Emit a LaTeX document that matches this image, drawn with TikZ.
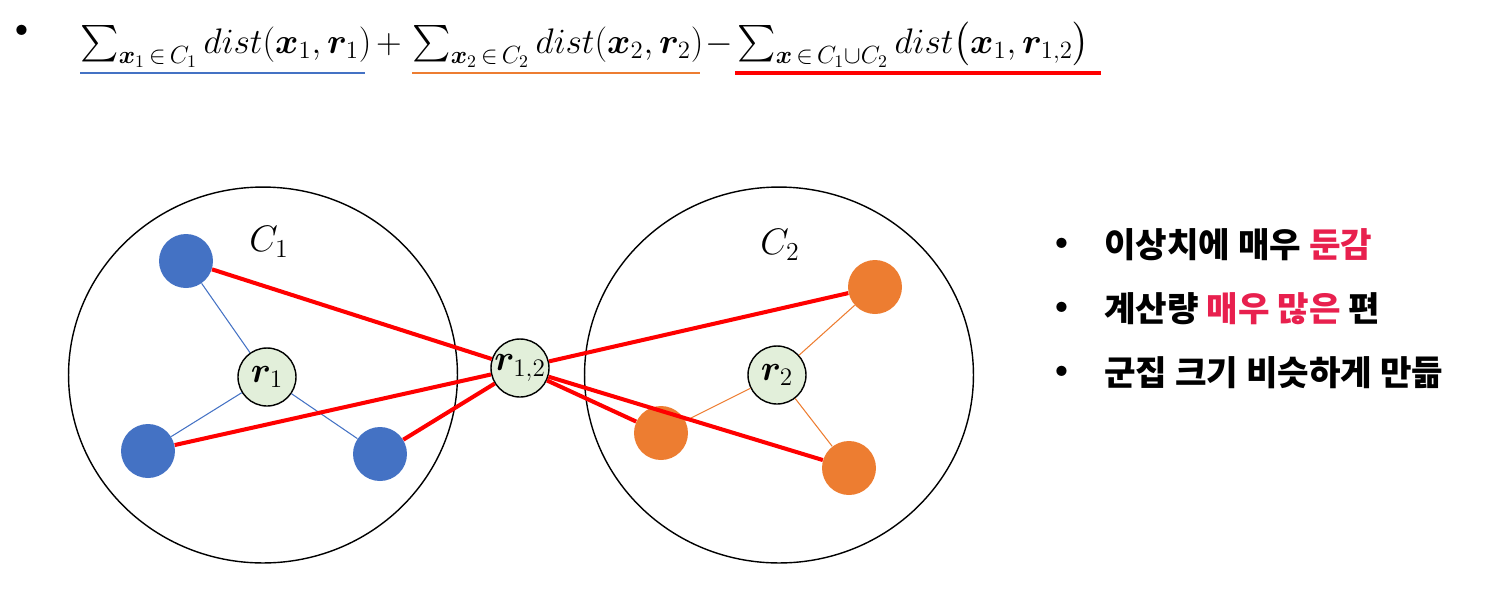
\documentclass[tikz,border=0pt]{standalone}
\usepackage{fix-cm}
\usepackage{amsmath,bm}
\usepackage{fontspec}
\newfontfamily\krfont{Noto Sans CJK KR}
\usetikzlibrary{shapes.geometric}
\definecolor{dotblue}{HTML}{4472C4}
\definecolor{dotorange}{HTML}{ED7D31}
\definecolor{repfill}{HTML}{E2EFDA}
\definecolor{hlred}{HTML}{E8204E}

\begin{document}
\begin{tikzpicture}[x=0.02cm, y=-0.02cm,
        cluster/.style={ellipse, draw=black, line width=0.8pt,
            minimum width=7.78cm, minimum height=7.52cm, inner sep=0pt},
        pt/.style={circle, inner sep=0pt, minimum size=1.08cm},
        bpt/.style={pt, fill=dotblue},
        opt/.style={pt, fill=dotorange},
        rep/.style={circle, draw=black, line width=0.8pt, fill=repfill,
            minimum size=1.16cm, inner sep=0pt, font=\fontsize{20.5}{24}\selectfont},
        lbl/.style={font=\fontsize{21}{25}\selectfont},
        formula/.style={anchor=base west, inner sep=0pt, font=\fontsize{20.2}{24}\selectfont},
        op/.style={anchor=base, inner sep=0pt, font=\fontsize{20.2}{24}\selectfont},
        farline/.style={red, line width=2.3pt},
        nearB/.style={dotblue, line width=0.6pt},
        nearO/.style={dotorange, line width=0.6pt},
        kr/.style={anchor=base west, inner sep=0pt,
            font=\krfont\bfseries\fontsize{19.5}{23}\selectfont},
        dotmark/.style={inner sep=0pt, font=\fontsize{26}{30}\selectfont}
      ]
      \useasboundingbox (0,0) rectangle (1492,593);

      % Formula line at the top
      \node[dotmark] at (22,34) (b0) {\textbullet};
      \node[formula] at (80,53)  (sumA) {$\sum_{\bm{x}_1 \,\in\, C_1} dist(\bm{x}_1,\bm{r}_1)$};
      \node[op]      at (389,53) (plus) {$+$};
      \node[formula] at (412,53) (sumB) {$\sum_{\bm{x}_2 \,\in\, C_2} dist(\bm{x}_2,\bm{r}_2)$};
      \node[op]      at (719,53) (minus) {$-$};
      \node[formula] at (737,53) (sumC) {$\sum_{\bm{x} \,\in\, C_1\cup C_2} dist\bigl(\bm{x}_1,\bm{r}_{1,2}\bigr)$};

      % Underlines
      \coordinate (uA1) at (80,73);  \coordinate (uA2) at (365,73);
      \coordinate (uB1) at (412,73); \coordinate (uB2) at (700,73);
      \coordinate (uC1) at (735,73); \coordinate (uC2) at (1101,73);
      \draw[dotblue, line width=0.7pt]   (uA1) -- (uA2);
      \draw[dotorange, line width=0.7pt] (uB1) -- (uB2);
      \draw[red, line width=2.3pt]       (uC1) -- (uC2);

      % Clusters
      \node[cluster] at (263,375) (c1) {};
      \node[cluster] at (779,375) (c2) {};
      \node[lbl] at (269,242) (c1lbl) {$C_1$};
      \node[lbl] at (780,245) (c2lbl) {$C_2$};

      % Points of C1
      \node[bpt] at (186,261) (a1) {};
      \node[bpt] at (148,451) (a2) {};
      \node[bpt] at (380,454) (a3) {};

      % Points of C2
      \node[opt] at (875,287) (o1) {};
      \node[opt] at (661,433) (o2) {};
      \node[opt] at (849,468) (o3) {};

      % Representatives
      \node[rep] at (267,377) (r1)  {$\bm{r}_1$};
      \node[rep] at (777,375) (r2)  {$\bm{r}_2$};
      \node[rep] at (520,368) (r12) {$\bm{r}_{1,2}$};

      % Thin lines to own representative
      \draw[nearB] (r1) -- (a1);
      \draw[nearB] (r1) -- (a2);
      \draw[nearB] (r1) -- (a3);
      \draw[nearO] (r2) -- (o1);
      \draw[nearO] (r2) -- (o2);
      \draw[nearO] (r2) -- (o3);

      % Thick lines to merged representative
      \draw[farline] (r12) -- (a1);
      \draw[farline] (r12) -- (a2);
      \draw[farline] (r12) -- (a3);
      \draw[farline] (r12) -- (o1);
      \draw[farline] (r12) -- (o2);
      \draw[farline] (r12) -- (o3);

      % Notes on the right
      \node[dotmark] at (1062,247) (b1) {\textbullet};
      \node[dotmark] at (1062,311) (b2) {\textbullet};
      \node[dotmark] at (1062,375) (b3) {\textbullet};
      \node[kr] at (1104,257) (t1) {이상치에 매우 \textcolor{hlred}{둔감}};
      \node[kr] at (1104,321) (t2) {계산량 \textcolor{hlred}{매우 많은} 편};
      \node[kr] at (1104,385) (t3) {군집 크기 비슷하게 만듦};
    \end{tikzpicture}
\end{document}
